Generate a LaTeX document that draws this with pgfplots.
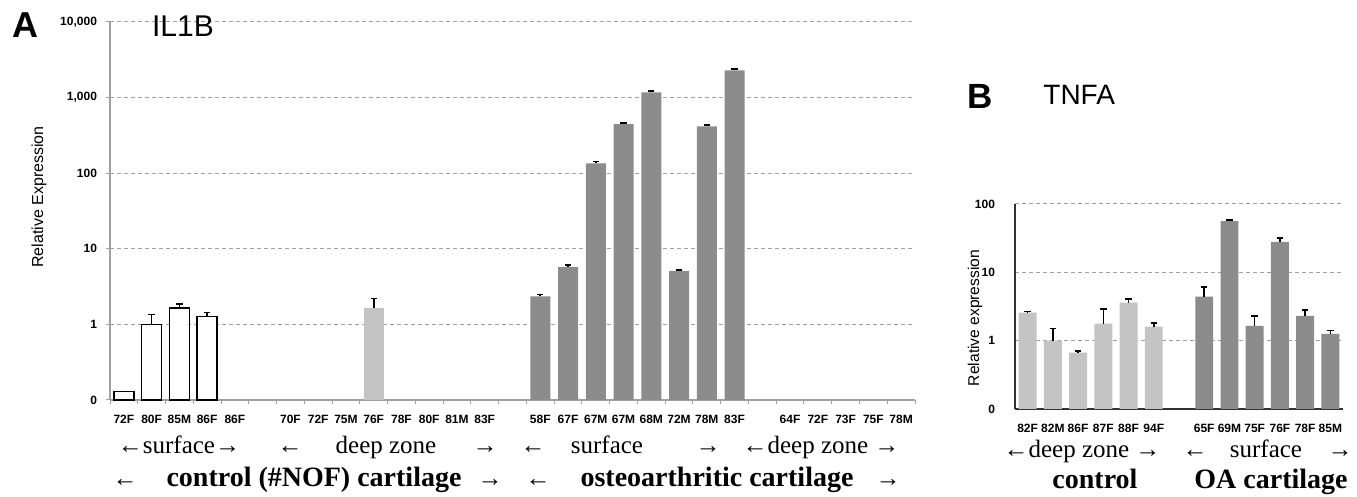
\documentclass[border=0pt]{standalone}
\usepackage{fontspec}
\setmainfont{Liberation Serif}
\setsansfont{Liberation Sans}
\usepackage{pgfplots}
\pgfplotsset{compat=1.18}
\definecolor{lightbar}{HTML}{C4C4C4}
\definecolor{darkbar}{HTML}{8C8C8C}
\definecolor{gridc}{HTML}{A0A0A0}
\newcommand{\tickfont}{\fontsize{6}{6}\selectfont\sffamily\bfseries}
\begin{document}
\begin{tikzpicture}
\path[use as bounding box] (0,0) rectangle (678.5pt,248.5pt);
\pgfplotsset{
  errstyle/.style={error bars/.cd, y dir=plus, y explicit,
    error mark=|,
    error bar style={black, line width=0.8pt},
    error mark options={black, line width=0.8pt, mark size=1.6pt}},
}
% ---------- Panel A ----------
\begin{axis}[
  at={(55pt,48.5pt)}, anchor=south west,
  scale only axis, width=402.5pt, height=189pt,
  xmin=-0.5, xmax=28.5,
  ymode=log, ymin=0.1, ymax=10000, log origin y=infty,
  axis x line*=bottom, axis y line*=left,
  axis line style={-, gridc, line width=0.6pt},
  ybar, bar width=0.72, bar shift=0pt,
  xtick={-0.5,0.5,...,28.5}, xticklabels={},
  extra x ticks={0,...,28},
  extra x tick labels={72F,80F,85M,86F,86F,,70F,72F,75M,76F,78F,80F,81M,83F,,58F,67F,67M,67M,68M,72M,78M,83F,,64F,72F,73F,75F,78M},
  extra x tick style={major tick length=0pt, grid=none,
    xticklabel style={font=\tickfont, yshift=-4pt}},
  ytick={0.1,1,10,100,1000,10000},
  yticklabels={0,1,10,100,{1,000},{10,000}},
  yminorticks=false,
  yticklabel style={font=\tickfont, xshift=-1pt},
  tick align=outside, major tick length=2pt,
  tick style={gridc, line width=0.5pt},
  ymajorgrids, y grid style={gridc, line width=0.5pt, dash pattern=on 2pt off 1.5pt},
  clip=false,
]
\addplot[fill=white, draw=black, line width=0.8pt] coordinates {(0,0.13)};
\addplot[fill=white, draw=black, line width=0.8pt, errstyle] coordinates {
  (1,1.0) +- (0,0.35)
  (2,1.66) +- (0,0.21)
  (3,1.27) +- (0,0.16)
};
\addplot[fill=lightbar, draw=none, errstyle] coordinates {
  (9,1.65) +- (0,0.55)
};
\addplot[fill=darkbar, draw=none, errstyle] coordinates {
  (15,2.35) +- (0,0.15)
  (16,5.7) +- (0,0.4)
  (17,135) +- (0,7)
  (18,445) +- (0,20)
  (19,1170) +- (0,50)
  (20,5.1) +- (0,0.15)
  (21,415) +- (0,18)
  (22,2290) +- (0,80)
};
\end{axis}
% ---------- Panel B ----------
\begin{axis}[
  at={(507.5pt,44pt)}, anchor=south west,
  scale only axis, width=164pt, height=102.5pt,
  xmin=-0.5, xmax=12.5,
  ymode=log, ymin=0.1, ymax=100, log origin y=infty,
  axis x line*=bottom, axis y line*=left,
  axis line style={-, black!80, line width=1pt},
  ybar, bar width=0.71, bar shift=0pt,
  xtick={0,1,2,3,4,5,7,8,9,10,11,12},
  xticklabels={82F,82M,86F,87F,88F,94F,65F,69M,75F,76F,78F,85M},
  xtick style={draw=none},
  xticklabel style={font=\tickfont, yshift=0pt},
  ytick={0.1,1,10,100},
  yticklabels={0,1,10,100},
  yminorticks=false,
  yticklabel style={font=\tickfont, xshift=-6.5pt},
  ytick style={draw=none},
  ymajorgrids, y grid style={gridc, line width=0.5pt, dash pattern=on 2pt off 1.5pt},
  clip=false,
]
\addplot[fill=lightbar, draw=none, errstyle] coordinates {
  (0,2.57) +- (0,0.1)
  (1,1.0) +- (0,0.5)
  (2,0.67) +- (0,0.04)
  (3,1.78) +- (0,1.1)
  (4,3.6) +- (0,0.5)
  (5,1.6) +- (0,0.2)
};
\addplot[fill=darkbar, draw=none, errstyle] coordinates {
  (7,4.4) +- (0,1.7)
  (8,56) +- (0,2.5)
  (9,1.65) +- (0,0.65)
  (10,28) +- (0,4)
  (11,2.3) +- (0,0.5)
  (12,1.26) +- (0,0.14)
};
\end{axis}
% ---------- Texts (pixel coordinates, y from top) ----------
\begin{scope}[x=0.5pt, y=-0.5pt, yshift=248.5pt, every node/.style={inner sep=0pt}]
\tikzset{r1/.style={font=\fontsize{12.5}{13}\selectfont, anchor=base},
         r2/.style={font=\bfseries\fontsize{14}{14}\selectfont, anchor=base}}
\node[font=\sffamily\bfseries\fontsize{18}{18}\selectfont] at (25,25) {A};
\node[font=\sffamily\fontsize{15}{15}\selectfont] at (183,26) {IL1B};
\node[font=\sffamily\fontsize{8}{8}\selectfont, rotate=90] at (39,197) {Relative Expression};
\node[r1] at (179,454) {←surface→};
\node[r1] at (290,454) {←};
\node[r1] at (386,454) {deep zone};
\node[r1] at (485,454) {→};
\node[r1] at (125,487) {←};
\node[r2] at (314,487) {control (\#NOF) cartilage};
\node[r1] at (490,487) {→};
\node[r1] at (533,454) {←};
\node[r1] at (607,454) {surface};
\node[r1] at (708,454) {→};
\node[r1] at (821,454) {←deep zone →};
\node[r1] at (538,487) {←};
\node[r2] at (717,487) {osteoarthritic cartilage};
\node[r1] at (888,487) {→};
% Panel B texts
\node[font=\sffamily\bfseries\fontsize{17.5}{18}\selectfont] at (980,96) {B};
\node[font=\sffamily\fontsize{14}{14}\selectfont, anchor=west] at (1043,95) {TNFA};
\node[font=\sffamily\fontsize{7.8}{8}\selectfont, rotate=90] at (975,318) {Relative expression};
\node[r1] at (1082,458) {←deep zone →};
\node[r1] at (1195,458) {←};
\node[r1] at (1266,458) {surface};
\node[r1] at (1340,458) {→};
\node[r2] at (1095,489) {control};
\node[r2] at (1271,489) {OA cartilage};
\end{scope}
\end{tikzpicture}
\end{document}
